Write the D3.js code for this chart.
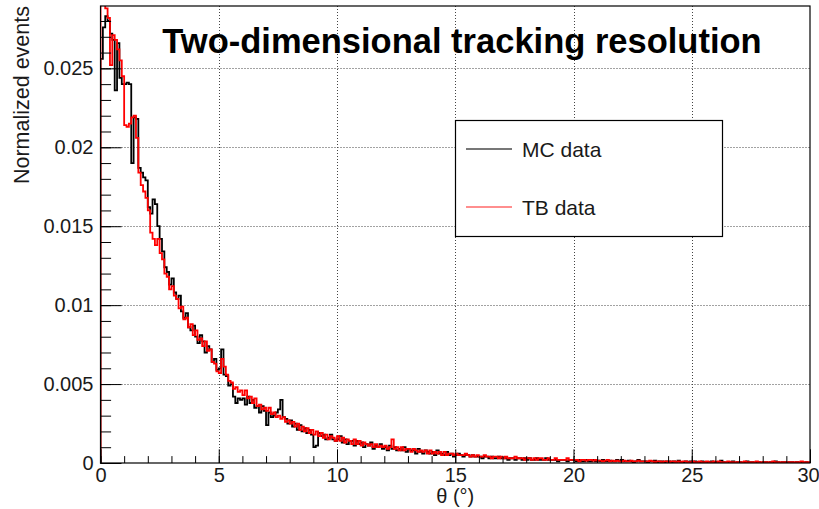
<!DOCTYPE html>
<html>
<head>
<meta charset="utf-8">
<script src="https://cdn.jsdelivr.net/npm/d3@7/dist/d3.min.js"></script>
<style>
  html, body { margin: 0; padding: 0; background: #fff; }
  svg { display: block; font-family: "Liberation Sans", Arial, sans-serif; }
</style>
</head>
<body>
<svg id="chart" width="819" height="509"></svg>
<script>
// Histogram binning: 300 bins of width 0.1 deg from 0 to 30 deg
const binLow = 0;
const binWidth = 0.1;
// Bin contents are listed in units of 1e-4 (normalized events per bin)
const countUnit = 1e-4;

// MC simulation
const mcCounts = [
  256, 276, 283, 280, 272, 268, 236, 266, 244, 240,
  240, 241, 240, 190, 219, 218, 187, 184, 181, 179,
  162, 158, 167, 164, 150, 142, 134, 124, 121, 113,
  117, 108, 104, 106, 96, 92, 95, 86, 84, 87,
  80, 76, 81, 77, 70, 74, 72, 64, 66, 59,
  60, 72, 56, 55, 49, 50, 42, 38, 41, 40,
  41, 37, 42, 38, 40, 35, 36, 32, 36, 33,
  24, 32, 29, 30, 32, 34, 40, 29, 28, 25,
  27, 23, 25, 21, 24, 20, 22, 19, 21, 18,
  10, 11, 19, 17, 18, 15, 16, 18, 15, 14,
  15, 17, 13, 15, 12, 14, 14, 11, 14, 12,
  13, 10, 12, 11, 13, 9, 11, 10, 12, 9,
  10, 8, 11, 9, 10, 8, 9, 8, 10, 7,
  9, 8, 8, 6, 9, 7, 6, 8, 7, 6,
  7, 5, 8, 6, 6, 5, 7, 5, 6, 4,
  5, 6, 5, 4, 5, 5, 4, 5, 4, 4,
  4, 3, 4, 4, 3, 4, 3, 3, 4, 3,
  3, 3, 2, 3, 3, 2, 3, 3, 2, 3,
  2, 3, 2, 2, 3, 2, 2, 2, 3, 2,
  2, 2, 2, 1, 2, 2, 2, 1, 2, 2,
  2, 1, 2, 1, 1, 2, 1, 1, 2, 1,
  1.5, 1, 2, 1, 1, 1.5, 1, 1, 2, 1,
  2, 1, 1, 1.5, 1, 0.5, 1, 2, 1, 1,
  1, 0.5, 1, 1, 1.5, 0.5, 1, 1, 0.5, 1,
  1, 0.5, 1, 0.5, 1.5, 0.5, 0.5, 1, 0.5, 1,
  0.5, 1, 0.5, 0.5, 1, 0.5, 0, 0.5, 1, 0.5,
  0.5, 0.5, 1.5, 0.5, 0, 0.5, 0.5, 1, 0, 0.5,
  0.5, 0, 0.5, 1, 0.5, 0.5, 0, 0.5, 0.5, 0,
  0.5, 0.5, 0, 0.5, 0, 1, 0.5, 0, 0.5, 0.5,
  0, 0.5, 0.5, 0, 0.5, 0, 0.5, 0, 0.5, 0
];

// Test-beam measurement
const tbCounts = [
  290, 291, 288, 282, 252, 271, 268, 262, 255, 245,
  214, 213, 215, 219, 220, 206, 184, 176, 172, 168,
  160, 146, 142, 138, 142, 133, 129, 120, 118, 110,
  112, 106, 104, 98, 99, 91, 92, 86, 88, 81,
  84, 78, 79, 74, 77, 71, 72, 64, 63, 58,
  57, 66, 61, 56, 52, 51, 47, 48, 45, 46,
  43, 46, 41, 42, 38, 41, 36, 37, 34, 35,
  33, 35, 31, 32, 29, 30, 28, 29, 26, 27,
  25, 26, 23, 25, 21, 23, 20, 22, 19, 21,
  18, 20, 17, 19, 16, 18, 15, 17, 16, 14,
  17, 14, 16, 13, 15, 14, 12, 15, 12, 14,
  11, 13, 12, 11, 12, 10, 12, 10, 11, 10,
  11, 9, 10, 15, 9, 10, 8, 10, 8, 9,
  9, 7, 9, 8, 7, 8, 7, 8, 6, 8,
  6, 7, 6, 7, 5, 7, 5, 6, 6, 5,
  6, 5, 5, 5, 6, 5, 4, 5, 4, 5,
  4, 4, 5, 4, 4, 3, 4, 4, 3, 4,
  3, 4, 3, 3, 3, 4, 3, 3, 3, 2,
  3, 3, 2, 3, 2, 3, 3, 2, 2, 3,
  2, 2, 3, 2, 2, 2, 2, 3, 2, 2,
  2, 2, 1, 2, 2, 1.5, 2, 2, 1.5, 2,
  1.5, 1.5, 1, 1.5, 2, 1, 1.5, 1, 1.5, 1,
  1, 1.5, 1, 1, 1.5, 1, 1, 1.5, 1, 1,
  1, 1, 1.5, 1, 0.5, 1, 1, 0.5, 1, 1,
  0.5, 1, 1, 0.5, 1, 0.5, 1, 1, 0.5, 0.5,
  1, 0.5, 0.5, 1, 0.5, 0.5, 1, 0.5, 0.5, 1,
  0.5, 1, 0.5, 0.5, 0.5, 1, 0.5, 0.5, 0.5, 0.5,
  0.5, 0.5, 1, 0.5, 0.5, 0.5, 0.5, 1, 0.5, 0.5,
  0.5, 0.5, 0.5, 0.5, 1, 0.5, 0.5, 0.5, 0.5, 0.5,
  0.5, 0.5, 0.5, 0.5, 0.5, 0.5, 1, 0.5, 0.5, 0.5
];

// Axes
const xDomain = [0, 30];
const yDomain = [0, 0.02895];
const xMajorTicks = [0, 5, 10, 15, 20, 25, 30];
const xTickLabels = ["0", "5", "10", "15", "20", "25", "30"];
const xMinorTicks = d3.range(0, 31, 1);
const yMajorTicks = [0, 0.005, 0.01, 0.015, 0.02, 0.025];
const yTickLabels = ["0", "0.005", "0.01", "0.015", "0.02", "0.025"];
const yMinorTicks = d3.range(0, 29).map(i => i * 0.001);
const xGrid = [5, 10, 15, 20, 25];
const yGrid = [0.005, 0.01, 0.015, 0.02, 0.025];

const titleText = "Two-dimensional tracking resolution";
const xTitle = "θ (°)";
const yTitle = "Normalized events";
const seriesNames = ["MC data", "TB data"];

// Frame geometry
const frame = { left: 100.5, right: 810, top: 6, bottom: 463 };

const svg = d3.select("#chart");
const x = d3.scaleLinear().domain(xDomain).range([frame.left, frame.right]);
const y = d3.scaleLinear().domain(yDomain).range([frame.bottom, frame.top]);

svg.append("defs").append("clipPath").attr("id", "plotClip")
  .append("rect")
  .attr("x", frame.left).attr("y", frame.top)
  .attr("width", frame.right - frame.left)
  .attr("height", frame.bottom - frame.top);

// Dotted grid
const grid = svg.append("g").attr("stroke", "#444").attr("stroke-width", 1)
  .attr("stroke-dasharray", "1,2");
grid.selectAll("line.gx").data(xGrid).join("line").attr("class", "gx")
  .attr("x1", d => Math.round(x(d)) + 0.5).attr("x2", d => Math.round(x(d)) + 0.5)
  .attr("y1", frame.top).attr("y2", frame.bottom);
grid.selectAll("line.gy").data(yGrid).join("line").attr("class", "gy")
  .attr("y1", d => Math.round(y(d)) + 0.5).attr("y2", d => Math.round(y(d)) + 0.5)
  .attr("x1", frame.left).attr("x2", frame.right);

// Step outline of a histogram, closed down to zero at both ends
function stepPoints(counts) {
  const pts = [[binLow, 0]];
  counts.forEach((c, i) => {
    const v = c * countUnit;
    pts.push([binLow + i * binWidth, v]);
    pts.push([binLow + (i + 1) * binWidth, v]);
  });
  pts.push([binLow + counts.length * binWidth, 0]);
  return pts;
}
const line = d3.line().x(d => x(d[0])).y(d => y(d[1]));

const plot = svg.append("g").attr("clip-path", "url(#plotClip)");
plot.append("path").datum(stepPoints(mcCounts))
  .attr("d", line).attr("fill", "none")
  .attr("stroke", "#000").attr("stroke-width", 1.8);
plot.append("path").datum(stepPoints(tbCounts))
  .attr("d", line).attr("fill", "none")
  .attr("stroke", "#ff0000").attr("stroke-width", 1.8);

// Axes with ticks pointing inward
const fontSize = 20;
const xAxisMajor = d3.axisBottom(x).tickValues(xMajorTicks)
  .tickFormat((d, i) => xTickLabels[i]).tickSize(-13.7).tickPadding(5);
const xAxisMinor = d3.axisBottom(x).tickValues(xMinorTicks)
  .tickFormat("").tickSize(-6.9);
const yAxisMajor = d3.axisLeft(y).tickValues(yMajorTicks)
  .tickFormat((d, i) => yTickLabels[i]).tickSize(-21).tickPadding(7);
const yAxisMinor = d3.axisLeft(y).tickValues(yMinorTicks)
  .tickFormat("").tickSize(-10.6);

function styleAxis(g) {
  g.select(".domain").remove();
  g.selectAll(".tick line").attr("stroke", "#000").attr("stroke-width", 1);
  g.selectAll(".tick text").attr("fill", "#1a1a1a")
    .attr("font-size", fontSize).attr("font-family", "Liberation Sans, Arial, sans-serif");
}
svg.append("g").attr("transform", `translate(0,${frame.bottom})`).call(xAxisMinor).call(styleAxis);
const xMajorG = svg.append("g").attr("transform", `translate(0,${frame.bottom})`)
  .call(xAxisMajor).call(styleAxis);
// keep the last label inside the page edge
xMajorG.selectAll(".tick text").filter(d => d === xDomain[1]).attr("dx", -2);
svg.append("g").attr("transform", `translate(${frame.left},0)`).call(yAxisMinor).call(styleAxis);
svg.append("g").attr("transform", `translate(${frame.left},0)`).call(yAxisMajor).call(styleAxis);

// Frame
svg.append("rect")
  .attr("x", frame.left).attr("y", frame.top)
  .attr("width", frame.right - frame.left).attr("height", frame.bottom - frame.top)
  .attr("fill", "none").attr("stroke", "#000").attr("stroke-width", 1.2);

// Axis titles
svg.append("text")
  .attr("x", (frame.left + frame.right) / 2).attr("y", 503)
  .attr("text-anchor", "middle").attr("font-size", 20).attr("fill", "#1a1a1a")
  .text(xTitle);
svg.append("text")
  .attr("transform", `translate(29,${frame.top}) rotate(-90)`)
  .attr("text-anchor", "end").attr("font-size", 21.5).attr("fill", "#1a1a1a")
  .text(yTitle);

// Title
svg.append("text")
  .attr("x", 462).attr("y", 53)
  .attr("text-anchor", "middle").attr("font-size", 34.5).attr("font-weight", "bold")
  .attr("fill", "#000")
  .text(titleText);

// Legend
const legend = svg.append("g");
legend.append("rect")
  .attr("x", 455.5).attr("y", 120.5).attr("width", 267).attr("height", 116)
  .attr("fill", "#fff").attr("stroke", "#000").attr("stroke-width", 1.2);
const legendColors = ["#4a4a4a", "#ff6868"];
const legendY = [149, 207];
seriesNames.forEach((name, i) => {
  legend.append("line")
    .attr("x1", 466).attr("x2", 512)
    .attr("y1", legendY[i]).attr("y2", legendY[i])
    .attr("stroke", legendColors[i]).attr("stroke-width", 1.6);
  legend.append("text")
    .attr("x", 522).attr("y", legendY[i] + 7.5)
    .attr("font-size", 21).attr("fill", "#1a1a1a")
    .text(name);
});
</script>
</body>
</html>
